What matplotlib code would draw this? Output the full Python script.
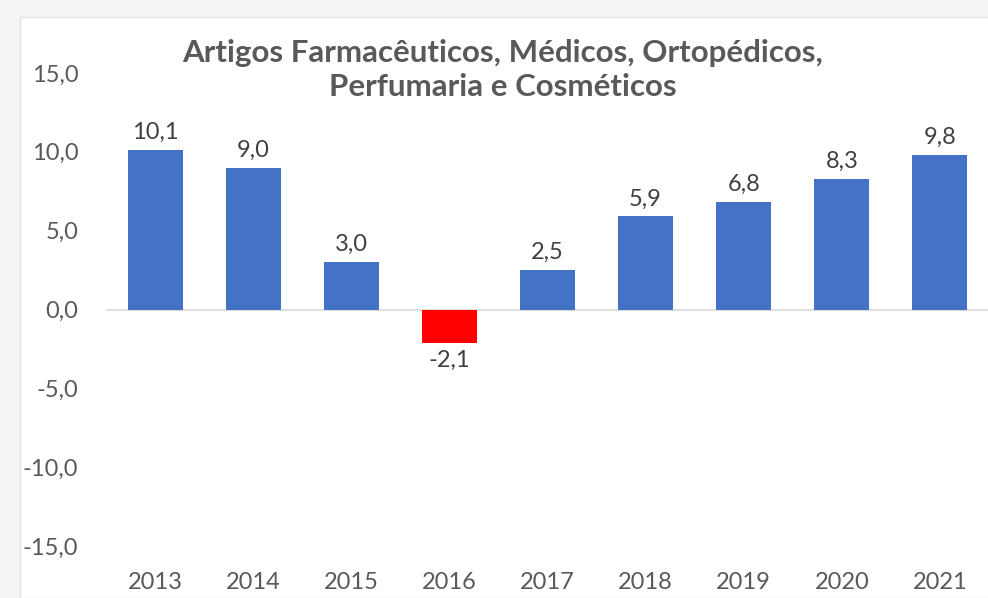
import matplotlib
matplotlib.use('Agg')
import matplotlib.pyplot as plt
from matplotlib.patches import Rectangle
import numpy as np

years = ['2013', '2014', '2015', '2016', '2017', '2018', '2019', '2020', '2021']
values = [10.1, 9.0, 3.0, -2.1, 2.5, 5.9, 6.8, 8.3, 9.8]
title = 'Artigos Farmacêuticos, Médicos, Ortopédicos,\nPerfumaria e Cosméticos'
yticks = [-15, -10, -5, 0, 5, 10, 15]

plt.rcParams['font.family'] = ['Lato', 'DejaVu Sans']

fig = plt.figure(figsize=(9.88, 5.98), dpi=100)
fig.patch.set_facecolor('#f5f5f5')
# white chart area (cropped at right/bottom)
fig.patches.append(Rectangle((20 / 988, 0), 1, 1 - 17 / 598, transform=fig.transFigure,
                             facecolor='white', edgecolor='#e3e3e3', linewidth=1, zorder=-5))

ax = fig.add_axes([106 / 988, 1 - 546 / 598, 883 / 988, 473 / 598])
ax.set_facecolor('none')
ax.set_zorder(2)

x = np.arange(len(years))
colors = ['#FF0000' if v < 0 else '#4472C4' for v in values]
bars = ax.bar(x, values, width=0.56, color=colors, zorder=2)

ax.set_xlim(-0.5, len(years) - 0.5)
ax.set_ylim(-15, 15)
ax.axhline(0, color='#d9d9d9', linewidth=1.2, zorder=1)

ax.set_yticks(yticks)
ax.set_yticklabels([f'{t:.1f}'.replace('.', ',') for t in yticks])
ax.set_xticks(x)
ax.set_xticklabels(years)
ax.tick_params(axis='y', length=0, pad=20, labelsize=17, labelcolor='#595959')
ax.tick_params(axis='x', length=0, pad=19, labelsize=17, labelcolor='#595959')
for s in ax.spines.values():
    s.set_visible(False)

for bar, v in zip(bars, values):
    lbl = f'{v:.1f}'.replace('.', ',')
    cx = bar.get_x() + bar.get_width() / 2
    if v >= 0:
        ax.annotate(lbl, (cx, v), xytext=(0, 5), textcoords='offset points',
                    ha='center', va='bottom', fontsize=17, color='#404040')
    else:
        ax.annotate(lbl, (cx, v), xytext=(0, -5), textcoords='offset points',
                    ha='center', va='top', fontsize=17, color='#404040')

fig.text(503 / 988, 1 - 70 / 598, title, ha='center', va='center', fontsize=22.5,
         fontweight='bold', color='#595959', linespacing=1.3)

fig.savefig('out.png', dpi=100, facecolor=fig.get_facecolor())
